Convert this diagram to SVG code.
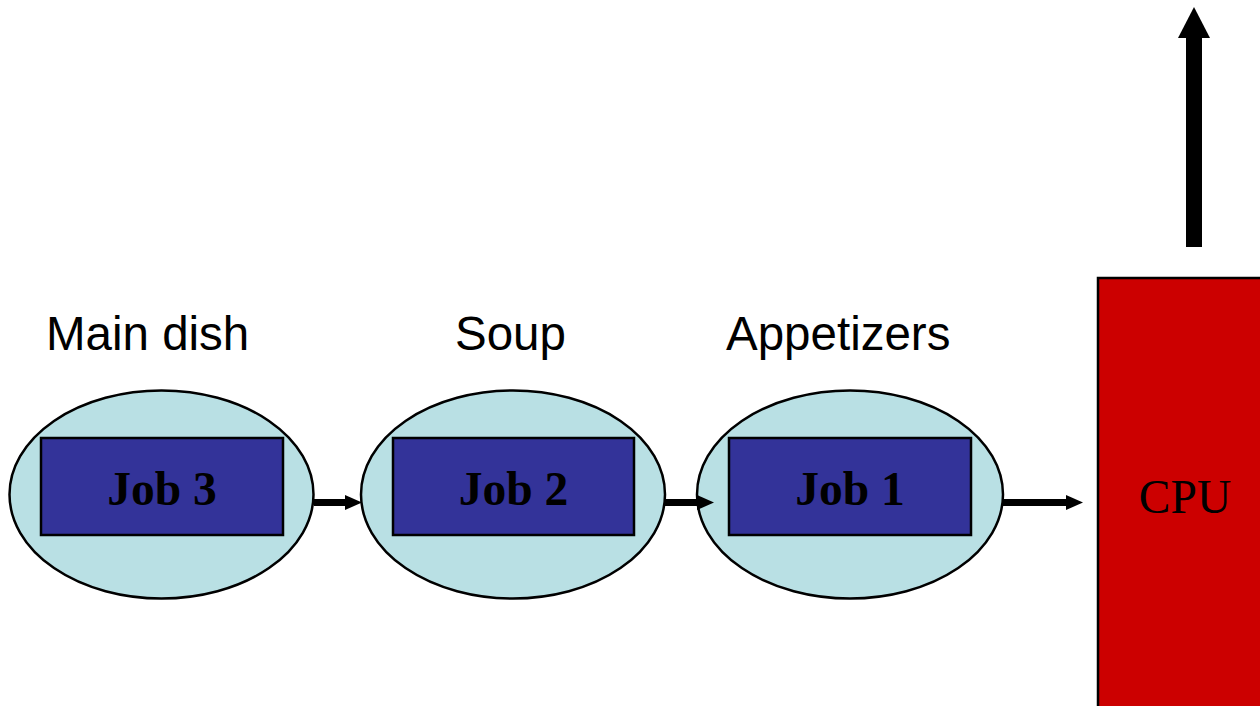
<svg xmlns="http://www.w3.org/2000/svg" width="1260" height="706" viewBox="0 0 1260 706">
  <defs>
    <style>
      .plate { fill: #B9E0E4; stroke: #000; stroke-width: 2.5; }
      .job { fill: #333399; stroke: #000; stroke-width: 2.5; }
      .jobtxt { font-family: "Liberation Serif", "Times New Roman", serif; font-weight: bold; font-size: 47.5px; fill: #000; text-anchor: middle; }
      .course { font-family: "Liberation Sans", Arial, sans-serif; font-size: 47.5px; fill: #000; }
      .flow { stroke: #000; stroke-width: 7; fill: none; }
      .head { fill: #000; }
    </style>
  </defs>
  <rect width="1260" height="706" fill="#fff"/>

  <!-- course labels -->
  <text class="course" x="46" y="350">Main dish</text>
  <text class="course" x="455" y="350">Soup</text>
  <text class="course" x="726" y="350">Appetizers</text>

  <!-- CPU -->
  <g id="cpu">
    <rect x="1098" y="278" width="170" height="440" fill="#CC0000" stroke="#000" stroke-width="2.5"/>
    <text x="1185" y="513" font-family="Liberation Serif, 'Times New Roman', serif" font-size="47.5" text-anchor="middle" fill="#000">CPU</text>
  </g>

  <!-- queued jobs -->
  <g id="job3">
    <ellipse class="plate" cx="161.5" cy="494.5" rx="152" ry="104"/>
    <rect class="job" x="41" y="438" width="242" height="97"/>
    <text class="jobtxt" x="162" y="505">Job 3</text>
  </g>
  <g id="job2">
    <ellipse class="plate" cx="513" cy="494.5" rx="152" ry="104"/>
    <rect class="job" x="393" y="438" width="241" height="97"/>
    <text class="jobtxt" x="513.5" y="505">Job 2</text>
  </g>
  <g id="job1">
    <ellipse class="plate" cx="850" cy="494.5" rx="153" ry="104"/>
    <rect class="job" x="729" y="438" width="242" height="97"/>
    <text class="jobtxt" x="850" y="505">Job 1</text>
  </g>

  <!-- connectors -->
  <g id="connectors">
    <line class="flow" x1="314" y1="502.5" x2="346" y2="502.5"/>
    <polygon class="head" points="345,495 362,502.5 345,510"/>
    <line class="flow" x1="665" y1="502.5" x2="698" y2="502.5"/>
    <polygon class="head" points="697,495 714,502.5 697,510"/>
    <line class="flow" x1="1003" y1="502.5" x2="1067" y2="502.5"/>
    <polygon class="head" points="1066,495 1083,502.5 1066,510"/>
    <rect x="1186" y="37" width="16" height="210" fill="#000"/>
    <polygon class="head" points="1178,38 1194,7 1210,38"/>
  </g>
</svg>
